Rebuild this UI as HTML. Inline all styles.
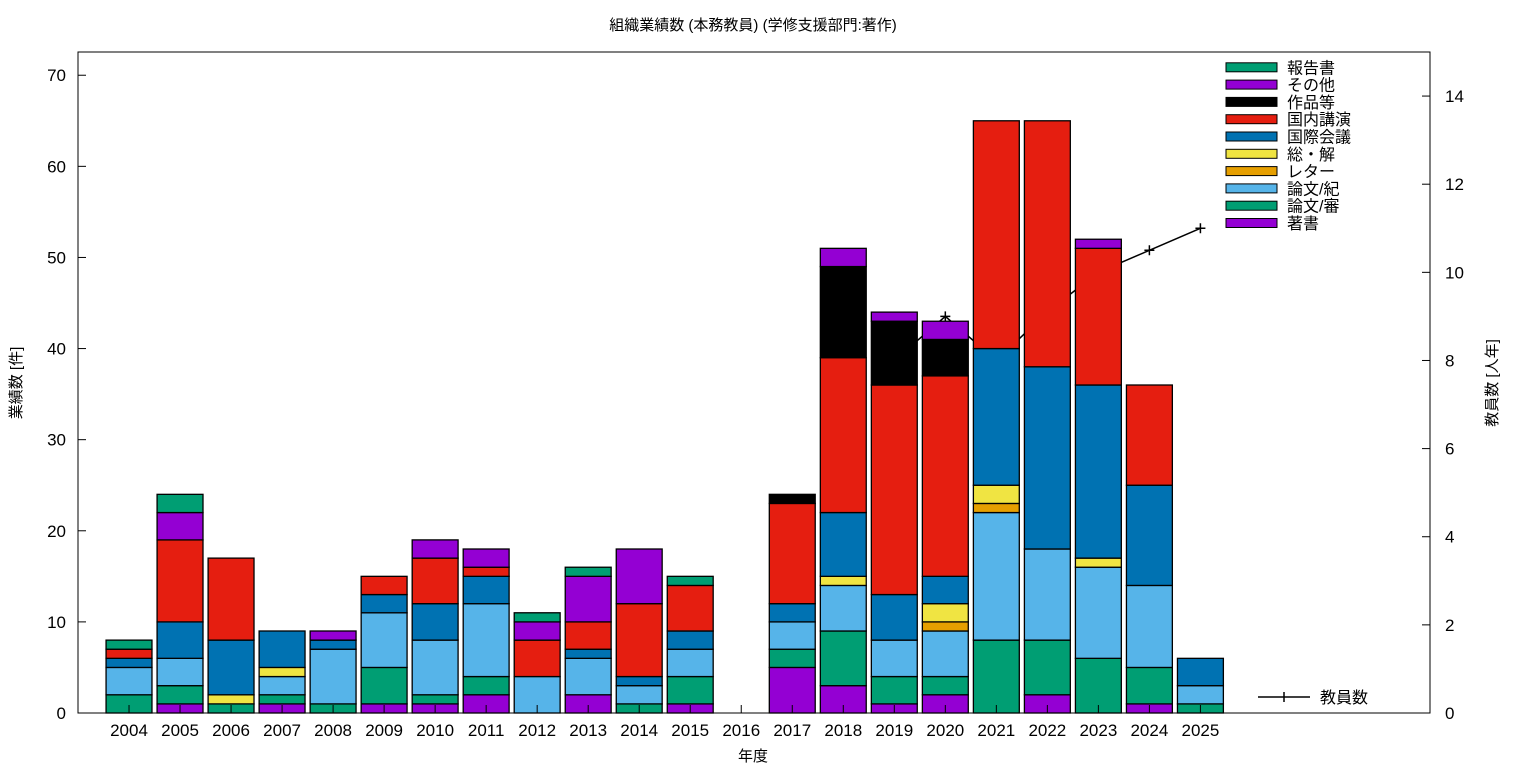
<!DOCTYPE html>
<html><head><meta charset="utf-8"><style>
html,body{margin:0;padding:0;background:#fff}
svg{display:block;font-family:"Liberation Sans","Noto Sans CJK JP",sans-serif}
</style></head><body>
<svg id="chart" width="1536" height="768">
<text x="753" y="30" text-anchor="middle" font-size="15">組織業績数 (本務教員) (学修支援部門:著作)</text>
<text x="753" y="761" text-anchor="middle" font-size="15">年度</text>
<text transform="translate(21,383) rotate(-90)" text-anchor="middle" font-size="15">業績数 [件]</text>
<text transform="translate(1497,383) rotate(-90)" text-anchor="middle" font-size="15">教員数 [人年]</text>
<g id="line-layer"></g>
<g id="bars"></g>
<g id="axes"></g>
<g id="legend"></g>
</svg>
<script>
const years=["2004","2005","2006","2007","2008","2009","2010","2011","2012","2013","2014","2015","2016","2017","2018","2019","2020","2021","2022","2023","2024","2025"];
const seriesNames=["著書","論文/審","論文/紀","レター","総・解","国際会議","国内講演","作品等","その他","報告書"];
const seriesColors=["#9400d3","#009e73","#56b4e9","#e69f00","#f0e442","#0072b2","#e51e10","#000000","#9400d3","#009e73"];
const chosho=[0,1,0,1,0,1,1,2,0,2,0,1,0,5,3,1,2,0,2,0,1,0];
const ronbunShin=[2,2,1,1,1,4,1,2,0,0,1,3,0,2,6,3,2,8,6,6,4,1];
const ronbunKi=[3,3,0,2,6,6,6,8,4,4,2,3,0,3,5,4,5,14,10,10,9,2];
const letter=[0,0,0,0,0,0,0,0,0,0,0,0,0,0,0,0,1,1,0,0,0,0];
const soukai=[0,0,1,1,0,0,0,0,0,0,0,0,0,0,1,0,2,2,0,1,0,0];
const kokusai=[1,4,6,4,1,2,4,3,0,1,1,2,0,2,7,5,3,15,20,19,11,3];
const kokunai=[1,9,9,0,0,2,5,1,4,3,8,5,0,11,17,23,22,25,27,15,11,0];
const sakuhin=[0,0,0,0,0,0,0,0,0,0,0,0,0,1,10,7,4,0,0,0,0,0];
const sonota=[0,3,0,0,1,0,2,2,2,5,6,0,0,0,2,1,2,0,0,1,0,0];
const houkoku=[1,2,0,0,0,0,0,0,1,1,0,1,0,0,0,0,0,0,0,0,0,0];
const lineYears=["2019","2020","2021","2022","2023","2024","2025"];
const staffCount=[8,9,8,9.1,10,10.5,11];
const yTicks=[0,10,20,30,40,50,60,70];
const y2Ticks=[0,2,4,6,8,10,12,14];

const NS="http://www.w3.org/2000/svg";
const L=78,R=1430,T=52,B=713;
const YMAX=72.55,Y2MAX=15.0;
const step=(R-L)/26.5;
function xs(i){return L+(i+1)*step;}
function ys(v){return B-(B-T)*v/YMAX;}
function y2s(v){return B-(B-T)*v/Y2MAX;}
function mk(tag,attrs,parent){const e=document.createElementNS(NS,tag);for(const k in attrs)e.setAttribute(k,attrs[k]);parent.appendChild(e);return e;}
const series=[chosho,ronbunShin,ronbunKi,letter,soukai,kokusai,kokunai,sakuhin,sonota,houkoku];
const keys=["chosho","ronbun-shin","ronbun-ki","letter","soukai","kokusai","kokunai","sakuhin","sonota","houkoku"];

// line (behind bars)
const lg=document.getElementById('line-layer');
let pts=lineYears.map((y,i)=>[xs(years.indexOf(y)),y2s(staffCount[i])]);
const pl=mk('polyline',{points:pts.map(p=>p.join(',')).join(' '),fill:'none',stroke:'#000','stroke-width':1.5},lg);


pts.forEach(p=>{
  const m=mk('path',{d:`M${p[0]-5},${p[1]}h10M${p[0]},${p[1]-5}v10`,stroke:'#000','stroke-width':1.5},lg);
  
  
});

// bars
const bg=document.getElementById('bars');
const bw=step*0.9;
years.forEach((yr,i)=>{
  let acc=0;
  series.forEach((s,k)=>{
    const v=s[i];if(!v)return;
    const y0=ys(acc),y1=ys(acc+v);acc+=v;
    const r=mk('rect',{x:xs(i)-bw/2,y:y1,width:bw,height:y0-y1,fill:seriesColors[k],stroke:'#000','stroke-width':1.3},bg);
    
    
  });
});

// axes
const ag=document.getElementById('axes');
const fr=mk('rect',{x:L,y:T,width:R-L,height:B-T,fill:'none',stroke:'#000','stroke-width':1},ag);


yTicks.forEach(t=>{
  mk('line',{x1:L,x2:L+8,y1:ys(t),y2:ys(t),stroke:'#000'},ag);
  const tx=mk('text',{x:L-12,y:ys(t)+6,'text-anchor':'end','font-size':17},ag);
  tx.textContent=t;
  
  
});
y2Ticks.forEach(t=>{
  mk('line',{x1:R-8,x2:R,y1:y2s(t),y2:y2s(t),stroke:'#000'},ag);
  const tx=mk('text',{x:R+15,y:y2s(t)+6,'text-anchor':'start','font-size':17},ag);
  tx.textContent=t;
  
  
});
years.forEach((yr,i)=>{
  mk('line',{x1:xs(i),x2:xs(i),y1:B,y2:B-8,stroke:'#000'},ag);
  const tx=mk('text',{x:xs(i),y:B+23,'text-anchor':'middle','font-size':17},ag);
  tx.textContent=yr;
  
  
});

// legend
const gg=document.getElementById('legend');
for(let j=0;j<10;j++){
  const k=9-j;const cy=67.3+j*17.3;
  const r=mk('rect',{x:1226,y:cy-4.5,width:51,height:9,fill:seriesColors[k],stroke:'#000','stroke-width':1},gg);
  
  
  const t=mk('text',{x:1287,y:cy+6,'font-size':16},gg);
  t.textContent=seriesNames[k];
  
  
}
const ll=mk('path',{d:'M1258,697H1310M1284,692v10',stroke:'#000','stroke-width':1.5},gg);


const lt=mk('text',{x:1320,y:703,'font-size':16},gg);
lt.textContent='教員数';


</script>
</body></html>
